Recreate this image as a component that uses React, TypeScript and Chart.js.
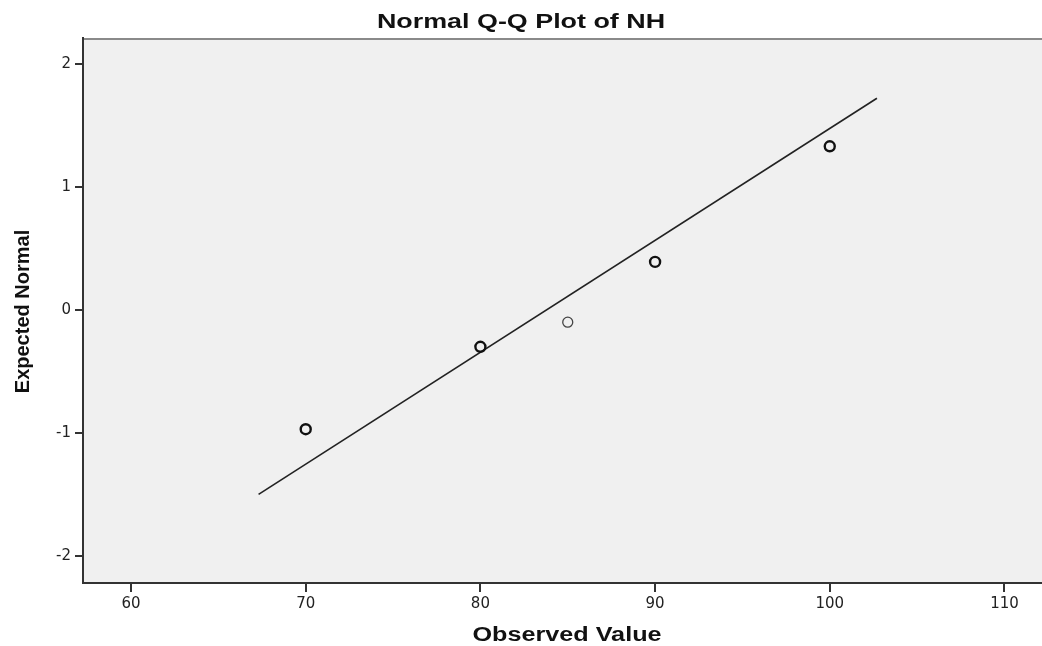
import React, { useEffect, useRef } from 'react';
import { Chart, registerables } from 'chart.js';

Chart.register(...registerables);

const chartTitle = 'Normal Q-Q Plot of NH';
const xAxisTitle = 'Observed Value';
const yAxisTitle = 'Expected Normal';

const observedValues = [70, 80, 85, 90, 100];
const expectedNormal = [-0.97, -0.3, -0.1, 0.39, 1.33];

const lineX = [67.3, 102.7];
const lineY = [-1.5, 1.72];

const xTicks = [60, 70, 80, 90, 100, 110];
const yTicks = [-2, -1, 0, 1, 2];

const xRange = [57.25, 112.15];
const yRange = [-2.22, 2.21];

const pointWidths = [2.4, 2.4, 1.3, 2.4, 2.4];
const pointColors = ['#111111', '#111111', '#444444', '#111111', '#111111'];

const spssPlugin = {
  id: 'spssDecor',
  beforeDraw(chart: any) {
    const { ctx, chartArea: a } = chart;
    ctx.save();
    ctx.fillStyle = '#f0f0f0';
    ctx.fillRect(a.left, a.top, a.right - a.left, a.bottom - a.top);
    ctx.strokeStyle = '#8a8a8a';
    ctx.lineWidth = 2;
    ctx.beginPath();
    ctx.moveTo(a.left, a.top + 1);
    ctx.lineTo(a.right, a.top + 1);
    ctx.stroke();
    ctx.restore();
  },
  afterDraw(chart: any) {
    const { ctx, chartArea: a } = chart;
    const family = '"Liberation Sans", Arial, sans-serif';
    ctx.save();
    ctx.fillStyle = '#111111';
    ctx.textAlign = 'center';
    ctx.textBaseline = 'alphabetic';
    // main title
    ctx.save();
    ctx.font = `bold 21px ${family}`;
    ctx.translate(chart.width / 2, 28);
    ctx.scale(1.28, 1);
    ctx.fillText(chartTitle, 0, 0);
    ctx.restore();
    // x axis title
    ctx.save();
    ctx.font = `bold 20px ${family}`;
    ctx.translate(567, 641);
    ctx.scale(1.26, 1);
    ctx.fillText(xAxisTitle, 0, 0);
    ctx.restore();
    // y axis title
    ctx.save();
    ctx.font = `bold 20px ${family}`;
    ctx.translate(29, (a.top + a.bottom) / 2 + 1);
    ctx.rotate(-Math.PI / 2);
    ctx.fillText(yAxisTitle, 0, 0);
    ctx.restore();
    ctx.restore();
  },
};

export default function App() {
  const ref = useRef<HTMLCanvasElement | null>(null);

  useEffect(() => {
    document.body.style.margin = '0';
    const canvas = ref.current;
    if (!canvas) return;
    const tickFont = { family: '"DejaVu Sans", sans-serif', size: 15 };
    const chart = new Chart(canvas, {
      type: 'scatter',
      data: {
        datasets: [
          {
            label: 'Observed',
            data: observedValues.map((x, i) => ({ x, y: expectedNormal[i] })),
            showLine: false,
            pointStyle: 'circle',
            pointRadius: 5,
            pointBackgroundColor: 'rgba(0,0,0,0)',
            pointBorderColor: pointColors,
            pointBorderWidth: pointWidths,
            order: 1,
          },
          {
            label: 'Normal line',
            data: lineX.map((x, i) => ({ x, y: lineY[i] })),
            showLine: true,
            pointRadius: 0,
            borderColor: '#222222',
            borderWidth: 1.6,
            order: 2,
          },
        ],
      },
      options: {
        animation: false,
        responsive: false,
        events: [],
        layout: { autoPadding: false, padding: { top: 38, left: 0, right: 0, bottom: 0 } },
        plugins: {
          legend: { display: false },
          title: { display: false },
          tooltip: { enabled: false },
        },
        scales: {
          x: {
            type: 'linear',
            min: xRange[0],
            max: xRange[1],
            afterBuildTicks: (scale: any) => {
              scale.ticks = xTicks.map((v) => ({ value: v }));
            },
            afterFit: (scale: any) => {
              scale.height = 63;
              scale.paddingLeft = 0;
              scale.paddingRight = 0;
            },
            ticks: { font: tickFont, color: '#222222', padding: 3, maxRotation: 0, autoSkip: false },
            grid: { drawOnChartArea: false, drawTicks: true, tickLength: 9, color: '#333333', lineWidth: 2 },
            border: { display: true, color: '#333333', width: 2 },
          },
          y: {
            type: 'linear',
            min: yRange[0],
            max: yRange[1],
            afterBuildTicks: (scale: any) => {
              scale.ticks = yTicks.map((v) => ({ value: v }));
            },
            afterFit: (scale: any) => {
              scale.width = 83;
              scale.paddingTop = 0;
              scale.paddingBottom = 0;
            },
            ticks: { font: tickFont, color: '#222222', padding: 4, autoSkip: false },
            grid: { drawOnChartArea: false, drawTicks: true, tickLength: 8, color: '#333333', lineWidth: 2 },
            border: { display: true, color: '#333333', width: 2 },
          },
        },
      },
      plugins: [spssPlugin],
    });
    return () => chart.destroy();
  }, []);

  return <canvas ref={ref} width={1042} height={646} style={{ display: 'block', width: 1042, height: 646 }} />;
}
